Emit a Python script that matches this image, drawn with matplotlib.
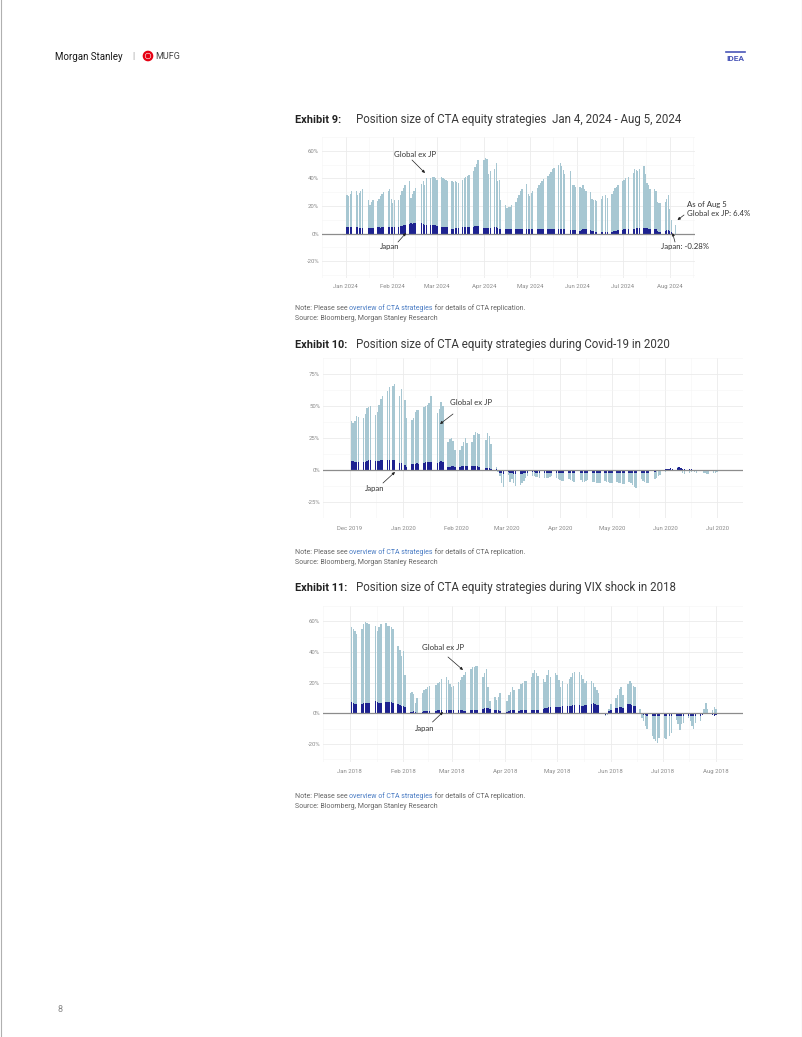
import matplotlib
matplotlib.use("Agg")
import matplotlib.pyplot as plt
import matplotlib.dates as mdates
import pandas as pd
from matplotlib.patches import Circle

plt.rcParams["font.family"] = ["Roboto", "DejaVu Sans"]

W, H = 802, 1037

LIGHT = "#a7c7d2"
NAVY = "#1d2290"
GRID = "#ebebeb"
GRID_MINOR = "#f5f5f5"
TICK_COLOR = "#8a8a8a"
LINK = "#4a7cc4"

# --- Exhibit 9: Jan 2024 - Aug 2024 (values in %) ---
dates_2024 = ("2024-01-02", "2024-08-05")
holidays_2024 = ["2024-01-15", "2024-02-19", "2024-03-29", "2024-05-27", "2024-06-19", "2024-07-04"]
global_2024 = [
    28, 27, 29, 31,
    31, 28, 29.5, 31, 32,
    24, 21, 23, 24,
    23.5, 25, 27, 28.5, 30,
    31, 32, 25, 22, 24,
    24, 28, 31, 33, 35,
    38, 26, 29, 31, 33,
    36, 38, 35, 40,
    40, 41, 41, 40, 39,
    41, 40, 39.5, 39, 38,
    38, 37.5, 38, 37.5, 37,
    39, 40, 41, 42, 42.5,
    45, 48.5, 50.5, 53,
    53, 55, 54, 43, 45,
    47, 51, 38, 39, 24,
    20.5, 18.5, 19.5, 19.5, 20.5,
    23, 26, 28, 30.5, 32,
    36, 28.5, 27.5, 29.5, 31,
    33, 35, 36.5, 38, 39.5,
    42, 43, 44.5, 46.5, 47.5,
    50, 51.5, 49, 46, 43,
    45, 35, 35, 34,
    34, 33, 35, 32, 31,
    30, 25, 24.5, 24, 23.5,
    25, 27, 28, 26,
    29, 31, 33, 34, 35,
    38, 39, 40, 41,
    44, 47, 46, 45, 47,
    49, 43, 37, 35, 32,
    32, 30.5, 23, 22.5, 22.5,
    23, 25, 28, 18, 10,
    6.4,
]
japan_2024 = [
    4.5, 4.5, 4.5, 4.5,
    4.5, 4.5, 4, 4, 4,
    4, 4, 4, 4,
    4.5, 4.5, 4, 4.5, 4.5,
    4.5, 5, 5, 4.5, 5,
    5, 5.5, 5.5, 6, 6,
    7, 7.5, 7, 7.5, 7.5,
    8, 7, 6, 6,
    6.5, 6, 6.5, 6, 5.5,
    5, 5, 5, 4.5, 4.5,
    3.5, 3.5, 4, 4, 4,
    4.5, 4.5, 5, 5, 5,
    5, 5.5, 5.5, 5.5,
    4, 4, 4, 4, 4,
    5, 5, 4, 3.5, 3.5,
    3, 3, 3, 3, 3,
    3, 3, 3, 3.5, 3.5,
    3, 3, 3, 3, 3,
    3, 3, 3, 3, 3,
    3, 3, 3, 3, 3,
    3, 3.5, 3.5, 3, 3,
    2.5, 2.5, 2.5, 2.5,
    2, 2.5, 3, 3, 3,
    2.5, 2, 2, 1.5, 1.5,
    1, 1, 1, 1,
    1.5, 2, 2, 2, 2.5,
    2.5, 3, 3, 3,
    3.5, 3.5, 4, 4, 4,
    4, 4, 4, 3.5, 3.5,
    3, 3, 2, 1.5, 1.5,
    2, 2.5, 2.5, 2, 1,
    -0.28,
]

# --- Exhibit 10: Covid-19, Dec 2019 - Jul 2020 ---
dates_2020 = ("2019-12-02", "2020-07-01")
holidays_2020 = ["2019-12-25", "2020-01-01", "2020-01-20", "2020-02-17", "2020-04-10", "2020-05-25"]
global_2020 = [
    38, 37, 38, 42, 41.5,
    41, 44, 48.5, 49, 50,
    43, 45.5, 50.5, 55.5, 58,
    62, 64.5, 66, 67,
    58, 63, 55, 41,
    39, 41, 45.5, 47, 47,
    49, 50, 51, 52.5, 58,
    44.5, 48, 53, 50,
    22, 24.5, 25, 23, 15.5,
    15.5, 19, 22, 25, 21,
    22, 27.5, 29.5, 29, 28,
    23.5, 29, 26.5, 20,
    2, -1.5, -5, -10, -13,
    -4, -9.5, -7, -10.5, -12.5,
    -12, -10.5, -8.5, -6, -5,
    -5, -5, -5.5, -5.5, -6,
    -6, -6.5, -6, -5.5, -5,
    -6.5, -7, -8, -8.5, -8.5,
    -7, -8, -8.5, -9,
    -8, -9, -9, -8.5, -8,
    -9, -9.5, -10, -10.5, -10,
    -8.5, -9, -9.5, -10, -10.5,
    -9.5, -10, -10.5, -11, -11,
    -9.5, -10.5, -11.5, -13, -14,
    -7, -8.5, -9.5, -10.5, -10.5,
    -7, -6, -5, -4,
    -1.5, -0.5, 0.3, 1, 0.5,
    2.5, 2, 0.5, -2, -3.5,
    -2, -1.5, -1, -1.5, -2,
    -1, -2, -2.5, -3.5, -3,
    -2.5, -2, -1.5,
]
japan_2020 = [
    7, 7, 6.5, 6.5, 6.5,
    6, 6.5, 7, 7.5, 8,
    7, 7, 7, 7.5, 7.5,
    7.5, 7.5, 7.5, 7.5,
    5.5, 5.5, 4, 2.5,
    4.5, 4.5, 5, 5.5, 5,
    5.5, 6, 6, 6.5, 6.5,
    5.5, 6, 7, 6.5,
    2.5, 2.5, 3, 3, 2.5,
    2.5, 3, 3.5, 3.5, 3,
    3, 3.5, 3, 3, 2.5,
    1.5, 1.5, 1.5, 1,
    0.5, -1, -2, -2.5, -3,
    -1.5, -2.5, -2.5, -3, -3,
    -3, -3, -2.5, -2.5, -2,
    -1.5, -1.5, -2, -2, -2,
    -2, -2, -2, -2, -2,
    -2, -2, -2, -2, -2,
    -2, -2, -2, -2,
    -2, -2, -2, -2, -2,
    -2, -2, -2, -2, -2,
    -2, -2, -2, -2.5, -2.5,
    -2.5, -2.5, -2.5, -2.5, -2.5,
    -2.5, -2.5, -2.5, -2.5, -2.5,
    -2, -2, -2.5, -2.5, -2.5,
    -1.5, -1, -1, -0.5,
    0.5, 1, 1, 1.5, 1,
    1.5, 2, 1.5, 1, 0.5,
    0.5, 0.5, 0, -0.5, -0.5,
    -0.5, -0.5, -0.5, -0.5, -1,
    -1, -1, -1,
]

# --- Exhibit 11: VIX shock, Jan 2018 - Aug 2018 ---
dates_2018 = ("2018-01-02", "2018-08-01")
holidays_2018 = ["2018-01-15", "2018-02-19", "2018-03-30", "2018-05-28", "2018-07-04"]
global_2018 = [
    56, 55, 53.5, 52,
    55, 58, 59.5, 59, 58,
    57, 54, 56, 58,
    59, 57, 57, 56, 55,
    44, 41, 37.5, 40.5, 25,
    13, 14, 12.5, 7, 10,
    13, 15, 16, 17, 18,
    18.5, 19.5, 20.5, 22.5,
    24, 22, 19, 17.5, 18,
    20.5, 22, 23.5, 25, 27,
    29, 30, 30, 31, 31,
    23.5, 26, 29, 17, 8,
    11, 9, 10.5, 13.5,
    8, 12, 14, 17, 15,
    16, 19, 20, 21, 21,
    23.5, 26, 28, 26.5, 24.5,
    22.5, 20.5, 25, 28, 24,
    26, 25, 22, 17, 21,
    19, 22.5, 24, 26.5, 27,
    27, 25, 22.5, 19.5, 21,
    21, 20, 17.5, 15, 13.5,
    -2, -1, 3, 6,
    10, 12, 16, 17, 12,
    19, 21, 20, 18, 17,
    3, -3, -5, -8, -10,
    -15, -17, -18, -19, -16,
    -16, -17, -15, -13,
    -4, -7, -11, -7, -6,
    -3, -5, -8, -10, -6,
    -5, -1, 3, 7, 3,
    2, 4, 3,
]
japan_2018 = [
    7.5, 6.5, 6, 6,
    6, 6.5, 6.5, 7, 7,
    8, 7.5, 6.5, 6.5,
    7.5, 7.5, 7.5, 7.5, 7,
    6, 5.5, 5, 5, 4,
    1, 1, 1.5, 1, 0.5,
    1, 1.5, 1.5, 1.5, 1.5,
    1.5, 2, 2, 2,
    2, 2, 2.5, 2.5, 2.5,
    2.5, 2, 2, 1.5, 1.5,
    2, 2, 2.5, 2.5, 2.5,
    3, 3.5, 3.5, 3.5, 3,
    2.5, 2, 2, 1.5,
    1, 1.5, 2, 2.5, 2.5,
    1.5, 2, 2.5, 2.5, 2,
    2, 2.5, 2.5, 2.5, 2.5,
    3, 3.5, 3.5, 4, 4,
    4, 4, 4, 4, 4.5,
    4.5, 5, 5, 5.5, 5.5,
    5.5, 5, 5, 5.5, 5.5,
    6, 6.5, 6, 5.5, 5.5,
    -1, 0.5, 1.5, 2,
    3.5, 3.5, 4, 4, 3.5,
    6, 6, 5.5, 5, 4.5,
    0.5, -0.5, -1, -1, -1.5,
    -1.5, -1.5, -2, -2, -2,
    -2, -2, -2, -2,
    -1.5, -2, -2, -2, -2,
    -2, -2, -2, -2, -2,
    -1.5, -1, -0.5, 0.5, 0.5,
    -1, -1.5, -1,
]


def trading_days(span, holidays):
    days = pd.bdate_range(span[0], span[1])
    return days[~days.isin(pd.to_datetime(holidays))]


fig = plt.figure(figsize=(W / 100, H / 100), dpi=100)


def add_px_axes(left, top, right, bottom):
    return fig.add_axes([left / W, 1 - bottom / H, (right - left) / W, (bottom - top) / H])


def draw_panel(box, days, glob, japan, xlim, ylim, yticks, first_month, last_month, xpad):
    ax = add_px_axes(*box)
    x = mdates.date2num(days)
    ax.bar(x, glob, width=0.85, color=LIGHT, linewidth=0, zorder=2)
    ax.bar(x, japan, width=0.85, color=NAVY, linewidth=0, zorder=3)
    ax.axhline(0, color="#8c8c8c", lw=0.9, zorder=4)

    base = mdates.date2num(pd.Timestamp(first_month))
    ax.set_xlim(base + xlim[0], base + xlim[1])
    ax.set_ylim(*ylim)

    months = list(pd.date_range(first_month, last_month, freq="MS"))
    mnum = mdates.date2num(months)
    ax.set_xticks(mnum)
    ax.set_xticklabels([m.strftime("%b %Y") for m in months])
    minor_x = [(a + b) / 2 for a, b in zip(mnum[:-1], mnum[1:])]
    minor_x.append(mnum[-1] + (mnum[-1] - mnum[-2]) / 2)
    minor_x.insert(0, mnum[0] - (mnum[1] - mnum[0]) / 2)
    ax.set_xticks(minor_x, minor=True)

    ax.set_yticks(yticks)
    ax.set_yticklabels([f"{t}%" for t in yticks])
    step = yticks[1] - yticks[0]
    ax.set_yticks([t + step / 2 for t in [yticks[0] - step] + list(yticks)], minor=True)

    ax.grid(which="major", color=GRID, lw=0.6)
    ax.grid(which="minor", color=GRID_MINOR, lw=0.4)
    ax.set_axisbelow(True)
    for s in ax.spines.values():
        s.set_visible(False)
    ax.tick_params(which="both", length=0)
    ax.tick_params(axis="x", labelsize=4.3, labelcolor=TICK_COLOR, pad=xpad)
    ax.tick_params(axis="y", labelsize=4.3, labelcolor=TICK_COLOR, pad=2)
    return ax


# Exhibit 9 panel
draw_panel((322, 137, 695, 278), trading_days(dates_2024, holidays_2024), global_2024, japan_2024,
           (-9.6, 229.6), (-32.2, 63), [-20, 0, 20, 40, 60], "2024-01-01", "2024-08-01", 4)
# Exhibit 10 panel
draw_panel((323, 358, 743, 518), trading_days(dates_2020, holidays_2020), global_2020, japan_2020,
           (-10.4, 224), (-31, 76), [-25, 0, 25, 50, 75], "2019-12-01", "2020-07-01", 6)
# Exhibit 11 panel
draw_panel((323, 606, 743, 762), trading_days(dates_2018, holidays_2018), global_2018, japan_2018,
           (-9.8, 223.4), (-31.7, 63.4), [-20, 0, 20, 40, 60], "2018-01-01", "2018-08-01", 5)

# --- page overlay, pixel coordinates ---
page = fig.add_axes([0, 0, 1, 1])
page.set_xlim(0, W)
page.set_ylim(H, 0)
page.axis("off")
page.patch.set_alpha(0)

page.plot([0.5, 0.5], [0, H], color="#b0b0b0", lw=0.8)
page.plot([W - 0.5, W - 0.5], [0, H], color="#b0b0b0", lw=0.8)

page.text(55, 56.5, "Morgan Stanley", fontsize=7, color="#1a1a1a", va="center", ha="left")
page.text(133, 56, "|", fontsize=6.5, color="#999999", va="center", ha="center")
page.add_patch(Circle((148, 56), 4.2, fill=False, edgecolor="#e60012", lw=1.6))
page.add_patch(Circle((148, 56), 1.8, color="#e60012"))
page.text(155, 56.5, "MUFG", fontsize=6.5, color="#444444", va="center", ha="left")
page.plot([726, 745], [52, 52], color="#4a56b8", lw=1.2)
page.text(735.5, 58.5, "IDEA", fontsize=6, fontweight="bold", color="#4a56b8", va="center", ha="center")

page.text(57, 1009, "8", fontsize=6.5, color="#888888", va="center", ha="left")

exhibits = [
    (120, "Exhibit 9:", "Position size of CTA equity strategies  Jan 4, 2024 - Aug 5, 2024", 308, 318),
    (344.5, "Exhibit 10:", "Position size of CTA equity strategies during Covid-19 in 2020", 552, 562),
    (588, "Exhibit 11:", "Position size of CTA equity strategies during VIX shock in 2018", 797, 807),
]
for y, label, title, note_y, src_y in exhibits:
    page.text(295, y, label, fontsize=7.9, fontweight="bold", color="#222222", va="center")
    page.text(355.5, y, title, fontsize=8.3, color="#3a3a3a", va="center")
    t1 = page.text(295, note_y, "Note: Please see ", fontsize=5, color="#666666", va="center")
    t2 = page.annotate("overview of CTA strategies", xy=(1, 0), xycoords=t1, fontsize=5,
                       color=LINK, va="bottom", ha="left")
    page.annotate(" for details of CTA replication.", xy=(1, 0), xycoords=t2, fontsize=5,
                  color="#666666", va="bottom", ha="left")
    page.text(295, src_y, "Source: Bloomberg, Morgan Stanley Research", fontsize=5,
              color="#666666", va="center")

ANN = dict(fontsize=5.6, color="#333333", family=["Lato", "DejaVu Sans"])
ARROW = dict(arrowstyle="-|>", lw=0.5, color="#222222", mutation_scale=4, shrinkA=0, shrinkB=0)


def note(text, xy_text, xy_tip=None, tail=None, ha="center"):
    page.text(xy_text[0], xy_text[1], text, ha=ha, va="center", **ANN)
    if xy_tip is not None:
        page.annotate("", xy=xy_tip, xytext=tail, arrowprops=ARROW)


# Exhibit 9 annotations
note("Global ex JP", (415, 154.5), (425, 173), (412, 160))
note("Japan", (390, 246), (406, 233), (398, 242))
note("As of Aug 5", (687, 204), ha="left")
note("Global ex JP: 6.4%", (687, 214), (677.5, 220), (684, 215), ha="left")
note("Japan: -0.28%", (685, 247), (672.5, 233), (675, 242))

# Exhibit 10 annotations
note("Global ex JP", (471, 402.5), (440, 424), (453, 414))
note("Japan", (375, 488), (395, 472), (383, 483))

# Exhibit 11 annotations
note("Global ex JP", (443, 647), (463, 670), (448, 657))
note("Japan", (425, 728.5), (443, 712), (432.5, 722))

fig.savefig("out.png", dpi=100, facecolor="white")
